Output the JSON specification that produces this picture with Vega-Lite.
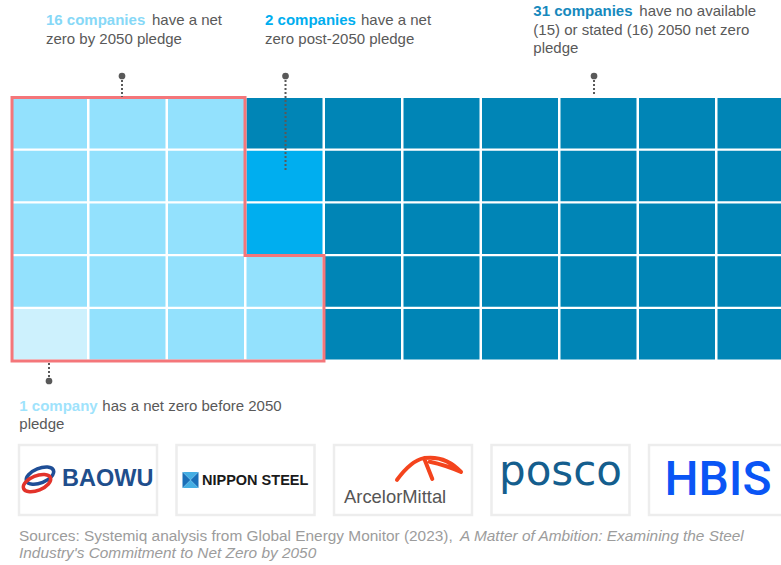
{
  "$schema": "https://vega.github.io/schema/vega-lite/v6.json",
  "width": 781,
  "height": 565,
  "autosize": {"type": "none"},
  "padding": 0,
  "background": "white",
  "config": {
    "view": {"stroke": null},
    "text": {"font": "Liberation Sans", "fontSize": 15, "baseline": "middle", "align": "left"}
  },
  "datasets": {
    "cells": [
      {"col": 0, "row": 0, "status": "by 2050"}, {"col": 0, "row": 1, "status": "by 2050"}, {"col": 0, "row": 2, "status": "by 2050"}, {"col": 0, "row": 3, "status": "by 2050"}, {"col": 0, "row": 4, "status": "before 2050"},
      {"col": 1, "row": 0, "status": "by 2050"}, {"col": 1, "row": 1, "status": "by 2050"}, {"col": 1, "row": 2, "status": "by 2050"}, {"col": 1, "row": 3, "status": "by 2050"}, {"col": 1, "row": 4, "status": "by 2050"},
      {"col": 2, "row": 0, "status": "by 2050"}, {"col": 2, "row": 1, "status": "by 2050"}, {"col": 2, "row": 2, "status": "by 2050"}, {"col": 2, "row": 3, "status": "by 2050"}, {"col": 2, "row": 4, "status": "by 2050"},
      {"col": 3, "row": 0, "status": "none"}, {"col": 3, "row": 1, "status": "post-2050"}, {"col": 3, "row": 2, "status": "post-2050"}, {"col": 3, "row": 3, "status": "by 2050"}, {"col": 3, "row": 4, "status": "by 2050"},
      {"col": 4, "row": 0, "status": "none"}, {"col": 4, "row": 1, "status": "none"}, {"col": 4, "row": 2, "status": "none"}, {"col": 4, "row": 3, "status": "none"}, {"col": 4, "row": 4, "status": "none"},
      {"col": 5, "row": 0, "status": "none"}, {"col": 5, "row": 1, "status": "none"}, {"col": 5, "row": 2, "status": "none"}, {"col": 5, "row": 3, "status": "none"}, {"col": 5, "row": 4, "status": "none"},
      {"col": 6, "row": 0, "status": "none"}, {"col": 6, "row": 1, "status": "none"}, {"col": 6, "row": 2, "status": "none"}, {"col": 6, "row": 3, "status": "none"}, {"col": 6, "row": 4, "status": "none"},
      {"col": 7, "row": 0, "status": "none"}, {"col": 7, "row": 1, "status": "none"}, {"col": 7, "row": 2, "status": "none"}, {"col": 7, "row": 3, "status": "none"}, {"col": 7, "row": 4, "status": "none"},
      {"col": 8, "row": 0, "status": "none"}, {"col": 8, "row": 1, "status": "none"}, {"col": 8, "row": 2, "status": "none"}, {"col": 8, "row": 3, "status": "none"}, {"col": 8, "row": 4, "status": "none"},
      {"col": 9, "row": 0, "status": "none"}, {"col": 9, "row": 1, "status": "none"}, {"col": 9, "row": 2, "status": "none"}, {"col": 9, "row": 3, "status": "none"}, {"col": 9, "row": 4, "status": "none"}
    ],
    "outline": [
      {"order": 0, "x": 0.013, "y": -0.01},
      {"order": 1, "x": 2.981, "y": -0.01},
      {"order": 2, "x": 2.981, "y": 2.986},
      {"order": 3, "x": 3.987, "y": 2.986},
      {"order": 4, "x": 3.987, "y": 4.986},
      {"order": 5, "x": 0.013, "y": 4.986},
      {"order": 6, "x": 0.013, "y": -0.01}
    ],
    "leaders": [
      {"group": "by 2050", "x": 1.414, "dot": -0.417, "end": -0.019},
      {"group": "post-2050", "x": 3.497, "dot": -0.417, "end": 1.384},
      {"group": "none", "x": 7.427, "dot": -0.417, "end": -0.038},
      {"group": "before 2050", "x": 0.484, "dot": 5.365, "end": 5.005}
    ],
    "labels": [
      {"style": "n16", "text": "16 companies", "x": 0.446, "y": -1.479},
      {"style": "body", "text": "have a net", "x": 1.796, "y": -1.479},
      {"style": "body", "text": "zero by 2050 pledge", "x": 0.446, "y": -1.118},
      {"style": "n2", "text": "2 companies", "x": 3.236, "y": -1.479},
      {"style": "body", "text": "have a net", "x": 4.459, "y": -1.479},
      {"style": "body", "text": "zero post-2050 pledge", "x": 3.236, "y": -1.118},
      {"style": "n31", "text": "31 companies", "x": 6.654, "y": -1.649},
      {"style": "body", "text": "have no available", "x": 8.004, "y": -1.649},
      {"style": "body", "text": "(15) or stated (16) 2050 net zero", "x": 6.654, "y": -1.289},
      {"style": "body", "text": "pledge", "x": 6.654, "y": -0.942},
      {"style": "n1", "text": "1 company", "x": 0.106, "y": 5.833},
      {"style": "body", "text": "has a net zero before 2050", "x": 1.163, "y": 5.833},
      {"style": "body", "text": "pledge", "x": 0.106, "y": 6.186},
      {"style": "source", "text": "Sources: Systemiq analysis from Global Energy Monitor (2023),", "x": 0.102, "y": 8.298},
      {"style": "sourceItalic", "text": "A Matter of Ambition: Examining the Steel", "x": 5.72, "y": 8.298},
      {"style": "sourceItalic", "text": "Industry's Commitment to Net Zero by 2050", "x": 0.102, "y": 8.631}
    ],
    "logos": [
      {"company": "Baowu"}, {"company": "Nippon Steel"}, {"company": "ArcelorMittal"}, {"company": "POSCO"}, {"company": "HBIS"}
    ]
  },
  "layer": [
    {
      "layer": [
        {
          "data": {"name": "cells"},
          "mark": {"type": "rect", "x2Offset": 76, "y2Offset": 50.5},
          "encoding": {
            "x": {"field": "col", "type": "quantitative", "scale": {"domain": [-0.14013, 9.80892], "nice": false, "zero": false}, "axis": null},
            "x2": {"field": "col"},
            "y": {"field": "row", "type": "quantitative", "scale": {"domain": [-1.8578, 8.8531], "reverse": true, "nice": false, "zero": false}, "axis": null},
            "y2": {"field": "row"},
            "color": {
              "field": "status", "type": "nominal",
              "scale": {"domain": ["before 2050", "by 2050", "post-2050", "none"], "range": ["#cdf1fd", "#93e1fd", "#00aeef", "#0085b6"]},
              "legend": null
            }
          }
        },
        {
          "data": {"name": "outline"},
          "mark": {"type": "line", "stroke": "#f4767a", "strokeWidth": 3, "strokeJoin": "miter", "strokeCap": "square"},
          "encoding": {
            "x": {"field": "x", "type": "quantitative", "scale": {"domain": [-0.14013, 9.80892], "nice": false, "zero": false}, "axis": null},
            "y": {"field": "y", "type": "quantitative", "scale": {"domain": [-1.8578, 8.8531], "reverse": true, "nice": false, "zero": false}, "axis": null},
            "order": {"field": "order"}
          }
        },
        {
          "data": {"name": "leaders"},
          "mark": {"type": "rule", "stroke": "#595959", "strokeWidth": 2, "strokeDash": [2, 2]},
          "encoding": {
            "x": {"field": "x", "type": "quantitative", "scale": {"domain": [-0.14013, 9.80892], "nice": false, "zero": false}, "axis": null},
            "y": {"field": "dot", "type": "quantitative", "scale": {"domain": [-1.8578, 8.8531], "reverse": true, "nice": false, "zero": false}, "axis": null},
            "y2": {"field": "end"}
          }
        },
        {
          "data": {"name": "leaders"},
          "mark": {"type": "point", "shape": "circle", "filled": true, "size": 45, "color": "#595959", "opacity": 1},
          "encoding": {
            "x": {"field": "x", "type": "quantitative", "scale": {"domain": [-0.14013, 9.80892], "nice": false, "zero": false}, "axis": null},
            "y": {"field": "dot", "type": "quantitative", "scale": {"domain": [-1.8578, 8.8531], "reverse": true, "nice": false, "zero": false}, "axis": null}
          }
        },
        {
          "data": {"name": "labels"},
          "transform": [{"filter": {"field": "style", "oneOf": ["n16", "n2", "n31", "n1"]}}],
          "mark": {"type": "text", "fontWeight": "bold"},
          "encoding": {
            "x": {"field": "x", "type": "quantitative", "scale": {"domain": [-0.14013, 9.80892], "nice": false, "zero": false}, "axis": null},
            "y": {"field": "y", "type": "quantitative", "scale": {"domain": [-1.8578, 8.8531], "reverse": true, "nice": false, "zero": false}, "axis": null},
            "text": {"field": "text"},
            "color": {
              "field": "style", "type": "nominal",
              "scale": {"domain": ["n16", "n2", "n31", "n1"], "range": ["#86d8f7", "#00aeef", "#1689bd", "#9fe3fc"]},
              "legend": null
            }
          }
        },
        {
          "data": {"name": "labels"},
          "transform": [{"filter": {"field": "style", "equal": "body"}}],
          "mark": {"type": "text", "color": "#595959"},
          "encoding": {
            "x": {"field": "x", "type": "quantitative", "scale": {"domain": [-0.14013, 9.80892], "nice": false, "zero": false}, "axis": null},
            "y": {"field": "y", "type": "quantitative", "scale": {"domain": [-1.8578, 8.8531], "reverse": true, "nice": false, "zero": false}, "axis": null},
            "text": {"field": "text"}
          }
        },
        {
          "data": {"name": "labels"},
          "transform": [{"filter": {"field": "style", "equal": "source"}}],
          "mark": {"type": "text", "color": "#9c9c9c", "fontSize": 15.4},
          "encoding": {
            "x": {"field": "x", "type": "quantitative", "scale": {"domain": [-0.14013, 9.80892], "nice": false, "zero": false}, "axis": null},
            "y": {"field": "y", "type": "quantitative", "scale": {"domain": [-1.8578, 8.8531], "reverse": true, "nice": false, "zero": false}, "axis": null},
            "text": {"field": "text"}
          }
        },
        {
          "data": {"name": "labels"},
          "transform": [{"filter": {"field": "style", "equal": "sourceItalic"}}],
          "mark": {"type": "text", "color": "#9c9c9c", "fontStyle": "italic", "fontSize": 15.4},
          "encoding": {
            "x": {"field": "x", "type": "quantitative", "scale": {"domain": [-0.14013, 9.80892], "nice": false, "zero": false}, "axis": null},
            "y": {"field": "y", "type": "quantitative", "scale": {"domain": [-1.8578, 8.8531], "reverse": true, "nice": false, "zero": false}, "axis": null},
            "text": {"field": "text"}
          }
        }
      ],
      "resolve": {"scale": {"color": "independent"}}
    },
    {
      "data": {"name": "logos"},
      "encoding": {
        "x": {
          "field": "company", "type": "nominal",
          "scale": {"domain": ["Baowu", "Nippon Steel", "ArcelorMittal", "POSCO", "HBIS"], "range": [19, 787], "paddingInner": 0.1238, "paddingOuter": 0},
          "axis": null
        }
      },
      "layer": [
        {
          "mark": {"type": "rect", "fill": "white", "stroke": "#ededed", "strokeWidth": 2.5},
          "encoding": {
            "y": {"datum": 6.578, "type": "quantitative", "scale": {"domain": [-1.8578, 8.8531], "reverse": true, "nice": false, "zero": false}, "axis": null},
            "y2": {"datum": 7.905}
          }
        },
        {
          "transform": [{"filter": "datum.company === 'Baowu'"}],
          "mark": {"type": "point", "shape": "M-1,0A1,0.5 0 1,1 1,0A1,0.5 0 1,1 -1,0Z", "size": 841, "angle": -22, "filled": false, "stroke": "#1f4e96", "strokeWidth": 3.5, "opacity": 1, "xOffset": -48},
          "encoding": {"y": {"datum": 7.16, "type": "quantitative"}}
        },
        {
          "transform": [{"filter": "datum.company === 'Baowu'"}],
          "mark": {"type": "point", "shape": "M-1,0A1,0.5 0 1,1 1,0A1,0.5 0 1,1 -1,0Z", "size": 841, "angle": -22, "filled": false, "stroke": "#e2332b", "strokeWidth": 3.5, "opacity": 1, "xOffset": -51},
          "encoding": {"y": {"datum": 7.3, "type": "quantitative"}}
        },
        {
          "transform": [{"filter": "datum.company === 'Baowu'"}],
          "mark": {"type": "text", "fontWeight": "bold", "fontSize": 23.5, "color": "#1f4e8c", "dx": -26},
          "encoding": {"y": {"datum": 7.223, "type": "quantitative"}, "text": {"value": "BAOWU"}}
        },
        {
          "transform": [{"filter": "datum.company === 'Nippon Steel'"}],
          "mark": {"type": "point", "shape": "M-1,-1L0,0L-1,1ZM1,-1L0,0L1,1Z", "size": 256, "filled": true, "color": "#1a6fb8", "opacity": 1, "xOffset": -55},
          "encoding": {"y": {"datum": 7.242, "type": "quantitative"}}
        },
        {
          "transform": [{"filter": "datum.company === 'Nippon Steel'"}],
          "mark": {"type": "point", "shape": "M-1,-1L1,-1L0,0ZM-1,1L1,1L0,0Z", "size": 256, "filled": true, "color": "#45aee3", "opacity": 1, "xOffset": -55},
          "encoding": {"y": {"datum": 7.242, "type": "quantitative"}}
        },
        {
          "transform": [{"filter": "datum.company === 'Nippon Steel'"}],
          "mark": {"type": "text", "fontWeight": "bold", "fontSize": 14.5, "color": "#1a1a1a", "dx": -43.5},
          "encoding": {"y": {"datum": 7.261, "type": "quantitative"}, "text": {"value": "NIPPON STEEL"}}
        },
        {
          "transform": [{"filter": "datum.company === 'ArcelorMittal'"}],
          "mark": {"type": "point", "shape": "M-0.97,0.33Q-0.55,-0.25 -0.15,-0.33Q0.5,-0.42 0.97,0.09Q0.5,-0.12 0.02,-0.22M-0.14,-0.3Q0.0,0.05 0.1,0.3", "size": 4356, "filled": false, "stroke": "#f4441d", "strokeWidth": 4, "strokeCap": "round", "strokeJoin": "round", "opacity": 1, "xOffset": 26},
          "encoding": {"y": {"datum": 7.033, "type": "quantitative"}}
        },
        {
          "transform": [{"filter": "datum.company === 'ArcelorMittal'"}],
          "mark": {"type": "text", "fontSize": 18.4, "color": "#555555", "baseline": "alphabetic", "dx": -59},
          "encoding": {"y": {"datum": 7.678, "type": "quantitative"}, "text": {"value": "ArcelorMittal"}}
        },
        {
          "transform": [{"filter": "datum.company === 'POSCO'"}],
          "mark": {"type": "text", "font": "DejaVu Sans", "fontSize": 42, "color": "#145e8e", "baseline": "alphabetic", "align": "center"},
          "encoding": {"y": {"datum": 7.336, "type": "quantitative"}, "text": {"value": "posco"}}
        },
        {
          "transform": [{"filter": "datum.company === 'HBIS'"}],
          "mark": {"type": "text", "font": "Roboto", "fontWeight": 500, "fontSize": 48, "color": "#0a55f5", "align": "center"},
          "encoding": {"y": {"datum": 7.27, "type": "quantitative"}, "text": {"value": "HBIS"}}
        }
      ]
    }
  ],
  "resolve": {"scale": {"x": "independent"}}
}
